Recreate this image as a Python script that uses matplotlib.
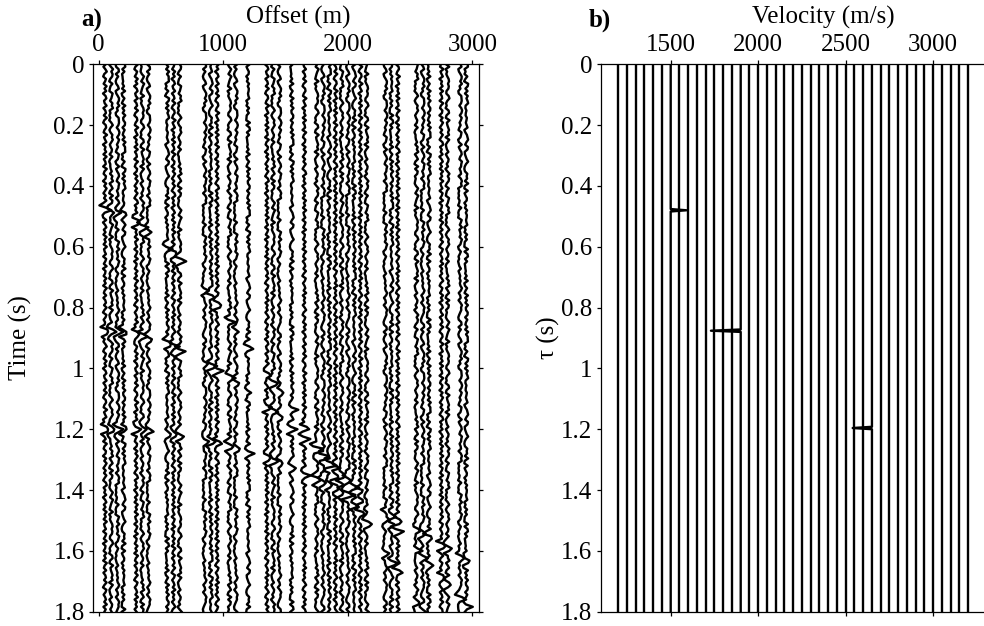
import matplotlib.pyplot as plt
import numpy as np

plt.rcParams['font.family'] = ['Liberation Serif', 'DejaVu Serif']

# receiver offsets (m) of the live traces in panel a
OFFSETS = [50, 100, 150, 200, 300, 350, 400, 550, 600, 650,
           850, 900, 950, 1050, 1100, 1200, 1350, 1400, 1450, 1550,
           1650, 1750, 1800, 1850, 1900, 1950, 2000, 2050, 2100, 2150,
           2300, 2350, 2400, 2550, 2600, 2650, 2750, 2800, 2900, 2950]

# three reflections: zero-offset time (s) and stacking velocity (m/s)
EVENT_T0 = [0.48, 0.876, 1.196]
EVENT_V = [1500, 1900, 2650]

# wavelet samples and background noise samples, read by eye
WAVELET = [0.0, -0.6, -1.8, 0.3, 2.2, 0.5, -1.3, -0.5, 0.0]
NOISE = [0.4, -0.7, 0.2, 0.9, -0.3, -0.8, 0.5, 0.1, -0.6, 0.8,
         -0.2, 0.6, -0.9, 0.3, 0.7, -0.4, -0.1, 0.8, -0.7, 0.2,
         0.5, -0.5, 0.9, -0.3, -0.8, 0.4, 0.6, -0.2, -0.6, 1.0,
         -0.4, 0.1, 0.7, -0.9, 0.3, -0.1, 0.6, -0.7, 0.8, -0.5,
         0.2, 0.4, -0.8, 0.9, -0.2, -0.6, 0.5, 0.3, -0.9, 0.6,
         -0.3, 0.8, 0.1, -0.7, 0.4, -0.4, 0.7, -0.1, -0.8, 0.5,
         0.9, -0.6, 0.2, -0.3, 0.6, -0.9, 0.1, 0.7, -0.5, 0.3,
         -0.7, 0.8, -0.2, 0.4, -0.6, 0.9, -0.4, -0.1, 0.5, -0.8,
         0.6, 0.2, -0.5, 0.8, -0.9, 0.3, 0.1, -0.6, 0.7, -0.3,
         0.4, -0.8, 0.9, -0.1, -0.5, 0.6, -0.7, 0.2, 0.5, -0.4,
         0.8, -0.2, -0.9, 0.7, 0.3, -0.6, 0.1, 0.5, -0.3, 0.9,
         -0.7, 0.4, -0.2]

# velocity panel: trace velocities and the three focused peaks
VELOCITIES = list(range(1200, 3201, 50))
PEAK_V = [1500, 1900, 2650]
PEAK_TAU = [0.48, 0.876, 1.196]
PEAK_AMP = [90, -170, -110]

TIME_TICKS = [0, 0.2, 0.4, 0.6, 0.8, 1.0, 1.2, 1.4, 1.6, 1.8]
TIME_LABELS = ['0', '0.2', '0.4', '0.6', '0.8', '1', '1.2', '1.4', '1.6', '1.8']

W, H = 984, 626
fig = plt.figure(figsize=(W / 100, H / 100), dpi=100)
ax1 = fig.add_axes([93.3 / W, 14.3 / H, 385.4 / W, 547.4 / H])
ax2 = fig.add_axes([600.7 / W, 14.3 / H, 385.0 / W, 547.4 / H])

FS = 18
GAIN = 17.0

dt = 0.008
t = np.arange(0, 1.8 + dt / 2, dt)
n = len(t)
noise = np.array(NOISE)
half = len(WAVELET) // 2
for i, off in enumerate(OFFSETS):
    idx = (i * 29 + (1 + i % 4) * np.arange(n)) % len(noise)
    tr = noise[idx] * (1 if i % 2 == 0 else -1)
    for t0, v in zip(EVENT_T0, EVENT_V):
        ta = np.sqrt(t0 ** 2 + (off / v) ** 2)
        k = int(round(ta / dt))
        for j, w in enumerate(WAVELET):
            kk = k + j - half
            if 0 <= kk < n:
                tr[kk] += w
    ax1.plot(off + GAIN * tr, t, color='k', lw=1.7)

dtb = 0.004
tb = np.arange(0, 1.8 + dtb / 2, dtb)
for v in VELOCITIES:
    tr = np.zeros(len(tb))
    for pv, ptau, pa in zip(PEAK_V, PEAK_TAU, PEAK_AMP):
        if v == pv:
            tr[int(round(ptau / dtb))] += pa
    ax2.plot(v + tr, tb, color='k', lw=1.7)

ax1.set_xlim(-43, 3050)
ax1.set_xticks([0, 1000, 2000, 3000])
ax2.set_xlim(1100, 3300)
ax2.set_xticks([1500, 2000, 2500, 3000])

for ax in (ax1, ax2):
    ax.set_ylim(1.8, 0)
    ax.set_yticks(TIME_TICKS)
    ax.set_yticklabels(TIME_LABELS)
    ax.tick_params(direction='out', top=True, right=True, bottom=True,
                   labeltop=True, labelbottom=False, length=3.2, width=0.9,
                   labelsize=FS, pad=3)
    for s in ax.spines.values():
        s.set_linewidth(0.9)

fig.text(298 / W, 1 - 17.5 / H, 'Offset (m)', fontsize=FS, ha='center', va='center')
fig.text(91.7 / W, 1 - 20 / H, 'a)', fontsize=FS, fontweight='bold', ha='center', va='center')
fig.text(823 / W, 1 - 17.5 / H, 'Velocity (m/s)', fontsize=FS, ha='center', va='center')
fig.text(599.5 / W, 1 - 20 / H, 'b)', fontsize=FS, fontweight='bold', ha='center', va='center')
fig.text(20 / W, 1 - 338 / H, 'Time (s)', fontsize=FS, rotation=90, ha='center', va='center')
fig.text(548 / W, 1 - 338 / H, 'τ (s)', fontsize=FS, rotation=90, ha='center', va='center')

fig.savefig('out.png', dpi=100)
